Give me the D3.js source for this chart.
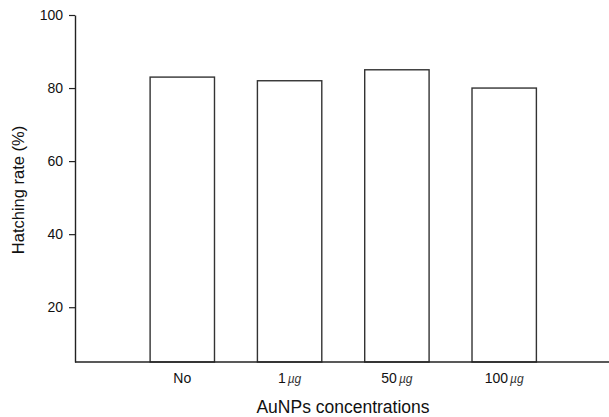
<!DOCTYPE html>
<html><head><meta charset="utf-8">
<script src="https://cdn.jsdelivr.net/npm/d3@7/dist/d3.min.js"></script>
<style>body{margin:0;background:#fff}svg{display:block}text{font-family:"Liberation Sans",Arial,sans-serif;fill:#111}</style>
</head><body>
<svg id="c" width="609" height="417"></svg>
<script>
const categories = ["No", "1", "50", "100"];
const units = ["", "µg", "µg", "µg"];
const values = [83, 82, 85, 80];
const yTicks = [20, 40, 60, 80, 100];

const svg = d3.select("#c");
const x = d3.scaleBand().domain(categories).range([75, 611.5]).paddingInner(0.4).paddingOuter(0.7);
const y = d3.scaleLinear().domain([5, 100]).range([362, 15]);

// bars
svg.append("g").selectAll("rect").data(values).join("rect")
  .attr("x", (d, i) => x(categories[i]))
  .attr("y", d => y(d))
  .attr("width", x.bandwidth())
  .attr("height", d => y(5) - y(d))
  .attr("fill", "#fff").attr("stroke", "#333").attr("stroke-width", 1.4);

// y axis
const ya = svg.append("g").attr("transform", "translate(75,0)")
  .call(d3.axisLeft(y).tickValues(yTicks).tickSize(6).tickPadding(6).tickSizeOuter(0));
ya.select(".domain").attr("stroke", "#222").attr("stroke-width", 1.4);
ya.selectAll(".tick line").attr("stroke", "#222").attr("stroke-width", 1.2);
ya.selectAll(".tick text").style("font-size", "14px").style("font-family", '"Liberation Sans",Arial,sans-serif').attr("fill", "#111");

// x axis
const xa = svg.append("g").attr("transform", "translate(0,362)")
  .call(d3.axisBottom(x).tickSize(0).tickSizeOuter(0).tickPadding(11).tickFormat(""));
xa.select(".domain").attr("stroke", "#222").attr("stroke-width", 1.4).attr("d", "M75,0H609");
xa.selectAll(".tick text").each(function(d, i) {
  const t = d3.select(this).style("font-size", "14px").attr("fill", "#111")
    .style("font-family", '"Liberation Sans",Arial,sans-serif');
  t.append("tspan").text(categories[i]);
  if (units[i]) t.append("tspan").attr("dx", 2).style("font-style", "italic").style("font-size", "12px").attr("fill", "#333").text(units[i]);
});

// axis titles
svg.append("text").attr("x", 343).attr("y", 413).attr("text-anchor", "middle")
  .style("font-size", "17.5px").text("AuNPs concentrations");
svg.append("text").attr("transform", "translate(24,190) rotate(-90)").attr("text-anchor", "middle")
  .style("font-size", "16.5px").text("Hatching rate (%)");
</script>
</body></html>
